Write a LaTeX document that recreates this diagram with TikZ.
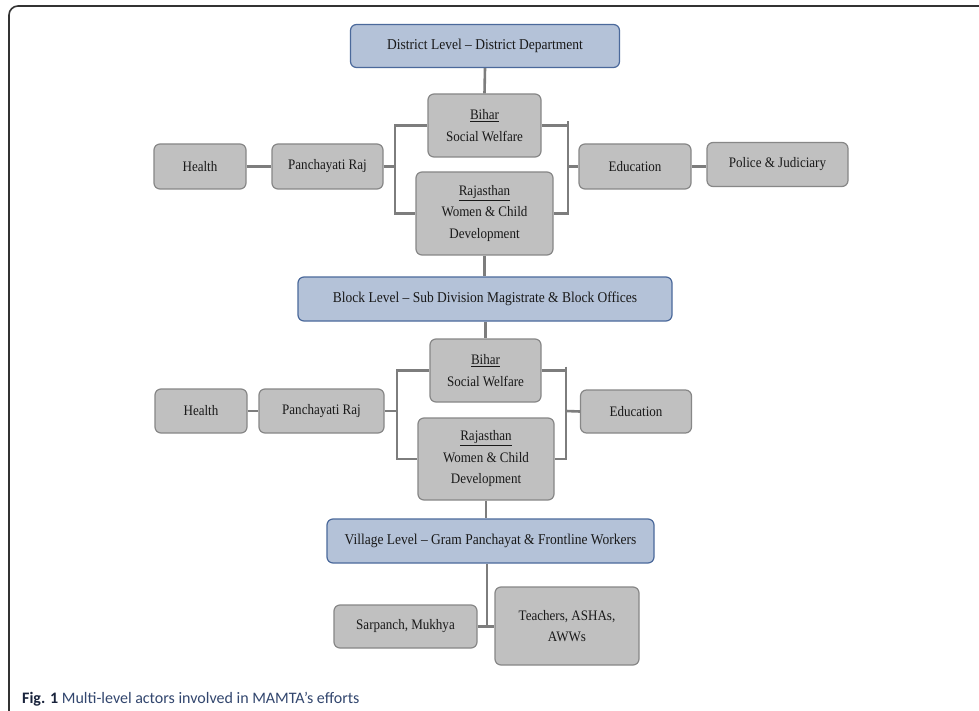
\documentclass[tikz,border=0pt]{standalone}
\usepackage{fontspec}
\setmainfont{Liberation Serif}
\newfontfamily\boxfont[FakeStretch=0.9,Ligatures=TeX]{Liberation Serif}
\newfontfamily\capfont[Ligatures=TeX]{Carlito}
\definecolor{boxgray}{RGB}{192,192,192}
\definecolor{boxedge}{RGB}{135,135,135}
\definecolor{bluefill}{RGB}{180,194,216}
\definecolor{blueedge}{RGB}{75,105,155}
\definecolor{connc}{RGB}{125,125,125}
\definecolor{capblue}{RGB}{50,70,110}
\definecolor{capdark}{RGB}{25,35,60}
\begin{document}
\begin{tikzpicture}[x=1pt,y=-1pt,
  actor/.style={draw=boxedge, fill=boxgray, line width=1.2pt, rounded corners=6pt,
    inner sep=0pt, align=center, font=\boxfont\fontsize{14.5}{21.5}\selectfont, text=black!90},
  level/.style={draw=blueedge, fill=bluefill, line width=1.2pt, rounded corners=6pt,
    inner sep=0pt, align=center, font=\boxfont\fontsize{15}{17}\selectfont, text=black!90},
  conn/.style={draw=connc, line width=2.6pt}]
\useasboundingbox (0,0) rectangle (979,711);
\fill[white] (0,0) rectangle (979,711);
% outer frame
\draw[line width=1.6pt, black!80, rounded corners=9pt] (979,6) -- (9,6) -- (9,711);
% level 1
\node[level, minimum width=269pt, minimum height=43pt] (district) at (485,46) {District Level – District Department};
\node[actor, minimum width=113pt, minimum height=63pt] (bihar1) at (484.5,125.5) {\underline{Bihar}\\Social Welfare};
\node[actor, minimum width=137pt, minimum height=83pt] (raj1) at (484.5,213.5) {\underline{Rajasthan}\\Women \& Child\\Development};
\node[actor, minimum width=111pt, minimum height=45pt] (pr1) at (327.5,166.5) {Panchayati Raj};
\node[actor, minimum width=92pt, minimum height=45pt] (health1) at (200,166.5) {Health};
\node[actor, minimum width=112pt, minimum height=45pt] (edu1) at (635,166.5) {Education};
\node[actor, minimum width=141pt, minimum height=44pt] (police) at (777.5,164.5) {Police \& Judiciary};
\coordinate (lb1) at (395,166.5);
\coordinate (rb1) at (568,166.5);
% level 2
\node[level, minimum width=374pt, minimum height=44pt] (block) at (485,299) {Block Level – Sub Division Magistrate \& Block Offices};
\node[actor, minimum width=111pt, minimum height=63pt] (bihar2) at (485.5,370.5) {\underline{Bihar}\\Social Welfare};
\node[actor, minimum width=136pt, minimum height=82pt] (raj2) at (486,459) {\underline{Rajasthan}\\Women \& Child\\Development};
\node[actor, minimum width=125pt, minimum height=44pt] (pr2) at (321.5,411) {Panchayati Raj};
\node[actor, minimum width=92pt, minimum height=44pt] (health2) at (201,411) {Health};
\node[actor, minimum width=111pt, minimum height=43pt] (edu2) at (636,411.5) {Education};
\coordinate (lb2) at (397,411);
\coordinate (rb2) at (566,411);
% level 3
\node[level, minimum width=327pt, minimum height=44pt] (village) at (490.5,541) {Village Level – Gram Panchayat \& Frontline Workers};
\node[actor, minimum width=143pt, minimum height=43pt] (sarpanch) at (405.5,626.5) {Sarpanch, Mukhya};
\node[actor, minimum width=144pt, minimum height=78pt] (teachers) at (567,626) {Teachers, ASHAs,\\AWWs};
\coordinate (vj) at (487,626.5);
% connectors level 1
\draw[conn] (district.south) -- (bihar1.north);
\draw[conn] (bihar1.west) -| (lb1) |- (raj1.west);
\draw[conn] (pr1.east) -- (lb1);
\draw[conn] (health1.east) -- (pr1.west);
\draw[conn] (bihar1.east) -- (bihar1.east -| rb1);
\draw[conn] ([yshift=4pt]bihar1.east -| rb1) |- (raj1.east);
\draw[conn] (edu1.west) -- (rb1);
\draw[conn] (edu1.east) -- (edu1.east -| police.west);
\draw[conn] (raj1.south) -- (raj1.south |- block.north);
% connectors level 2
\draw[conn] (block.south -| bihar2.north) -- (bihar2.north);
\draw[conn] (bihar2.west) -| (lb2) |- (raj2.west);
\draw[conn] (pr2.east) -- (lb2);
\draw[conn] (health2.east) -- (pr2.west);
\draw[conn] (bihar2.east) -- (bihar2.east -| rb2);
\draw[conn] ([yshift=4pt]bihar2.east -| rb2) |- (raj2.east);
\draw[conn] (edu2.west) -- (rb2);
\draw[conn] (raj2.south) -- (raj2.south |- village.north);
% connectors level 3
\draw[conn] (village.south -| vj) -- (vj);
\draw[conn] (sarpanch.east) -- (teachers.west |- sarpanch.east);
% caption
\node[anchor=base west, inner sep=0pt, font=\capfont\fontsize{16}{18}\selectfont, text=capblue] (caption) at (22,703) {{\color{capdark}\bfseries Fig. 1} Multi-level actors involved in MAMTA's efforts};
\end{tikzpicture}
\end{document}
